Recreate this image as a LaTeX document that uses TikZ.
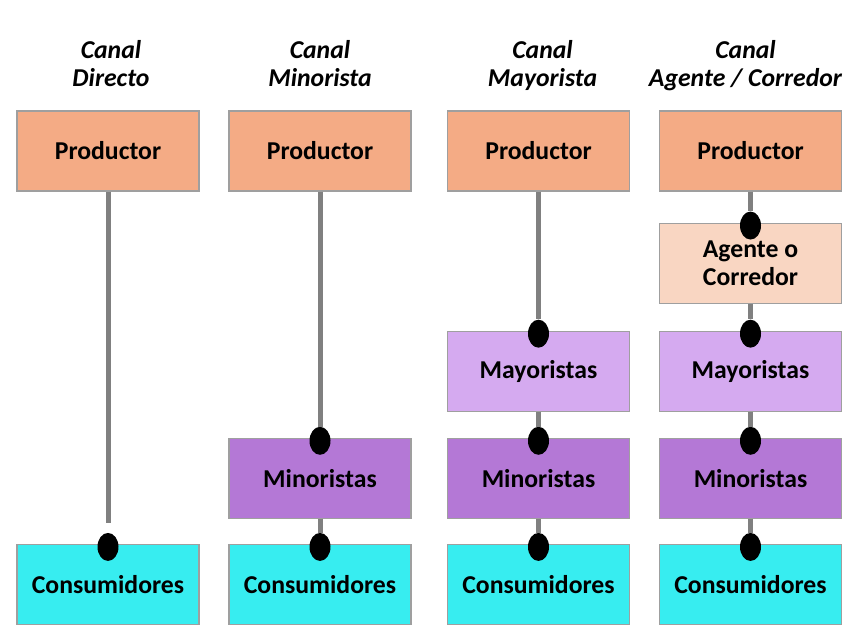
\documentclass[tikz,border=0pt]{standalone}
\usepackage{fontspec}
\setmainfont{Carlito}
\usetikzlibrary{positioning, shapes.geometric}

\definecolor{prodcol}{RGB}{244,171,133}
\definecolor{agentcol}{RGB}{249,214,194}
\definecolor{mayorcol}{RGB}{213,170,240}
\definecolor{minorcol}{RGB}{180,120,214}
\definecolor{conscol}{RGB}{55,237,240}
\definecolor{linkcol}{RGB}{128,128,128}

\begin{document}
\begin{tikzpicture}[
  node distance=0.675cm and 0.75cm,
  box/.style={draw=gray!75, line width=0.8pt, minimum width=4.55cm, minimum height=2.0cm, align=center, inner sep=0pt, font=\fontsize{18.3}{20}\selectfont\bfseries},
  head/.style={align=center, inner sep=0pt, text depth=0pt, font=\fontsize{18.3}{20}\selectfont\bfseries\itshape},
  dot/.style={ellipse, fill=black, inner sep=0pt, minimum width=0.525cm, minimum height=0.7cm},
  link/.style={line width=0.125cm, draw=linkcol}
]
\useasboundingbox (0,0) rectangle (21.45,-15.975);

% productores
\node[box, fill=prodcol] (prod1) at (2.7,-3.775) {Productor};
\node[box, fill=prodcol] (prod2) at (8.0,-3.775) {Productor};
\node[box, fill=prodcol] (prod3) at (13.4625,-3.775) {Productor};
\node[box, fill=prodcol] (prod4) at (18.7625,-3.775) {Productor};

% canales
\node[head, above=0.6cm of prod1, xshift=0.075cm] (head1) {Canal\\Directo};
\node[head, above=0.6cm of prod2] (head2) {Canal\\Minorista};
\node[head, above=0.6cm of prod3, xshift=0.1cm] (head3) {Canal\\Mayorista};
\node[head, above=0.6cm of prod4, xshift=-0.125cm] (head4) {Canal\\Agente / Corredor};

% columna 4
\node[box, fill=agentcol, below=0.775cm of prod4] (agent4) {Agente o\\Corredor};
\node[box, fill=mayorcol, below=of agent4] (mayor4) {Mayoristas};
\node[box, fill=minorcol, below=0.65cm of mayor4] (minor4) {Minoristas};
\node[box, fill=conscol, below=0.625cm of minor4] (cons4) {Consumidores};

% columnas 1-3
\node[box, fill=mayorcol] (mayor3) at (prod3 |- mayor4) {Mayoristas};
\node[box, fill=minorcol] (minor2) at (prod2 |- minor4) {Minoristas};
\node[box, fill=minorcol] (minor3) at (prod3 |- minor4) {Minoristas};
\node[box, fill=conscol] (cons1) at (prod1 |- cons4) {Consumidores};
\node[box, fill=conscol] (cons2) at (prod2 |- cons4) {Consumidores};
\node[box, fill=conscol] (cons3) at (prod3 |- cons4) {Consumidores};

% puntos de entrada
\node[dot] (dcons1) at ([yshift=-0.075cm]cons1.north) {};
\node[dot] (dminor2) at ([yshift=-0.075cm]minor2.north) {};
\node[dot] (dcons2) at ([yshift=-0.075cm]cons2.north) {};
\node[dot] (dmayor3) at ([yshift=-0.075cm]mayor3.north) {};
\node[dot] (dminor3) at ([yshift=-0.075cm]minor3.north) {};
\node[dot] (dcons3) at ([yshift=-0.075cm]cons3.north) {};
\node[dot] (dagent4) at ([yshift=-0.075cm]agent4.north) {};
\node[dot] (dmayor4) at ([yshift=-0.075cm]mayor4.north) {};
\node[dot] (dminor4) at ([yshift=-0.075cm]minor4.north) {};
\node[dot] (dcons4) at ([yshift=-0.075cm]cons4.north) {};

\draw[link, shorten >=0.25cm] (prod1) -- (dcons1);
\draw[link] (prod2) -- (dminor2);
\draw[link] (minor2) -- (dcons2);
\draw[link] (prod3) -- (dmayor3);
\draw[link] (mayor3) -- (dminor3);
\draw[link] (minor3) -- (dcons3);
\draw[link] (prod4) -- (dagent4);
\draw[link] (agent4) -- (dmayor4);
\draw[link] (mayor4) -- (dminor4);
\draw[link] (minor4) -- (dcons4);

\end{tikzpicture}
\end{document}
